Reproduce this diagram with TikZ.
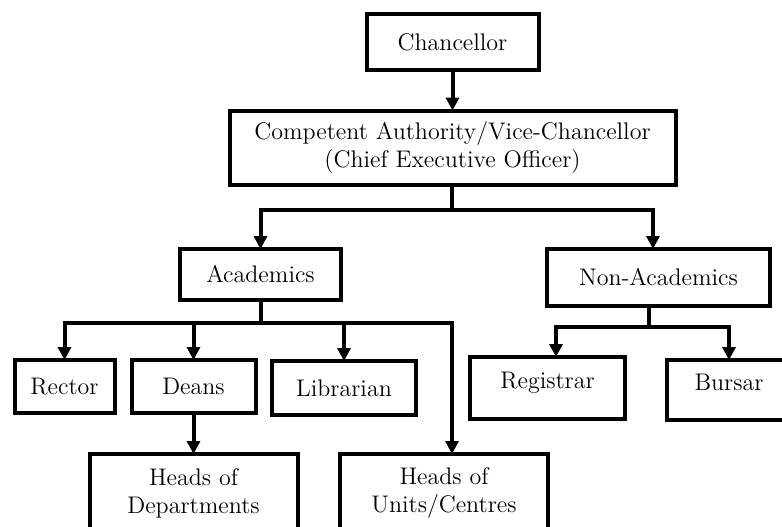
\documentclass[tikz,border=0pt]{standalone}
\usepackage{tikz,tkz-graph}
\usetikzlibrary{arrows.meta}
\tikzstyle{orgBox}=[shape = rectangle, draw, line width = 2pt, inner sep = 2pt, align = center, font = \fontsize{12}{14}\selectfont]
\tikzstyle{raisedText}=[text height = 9pt, text depth = 9pt]
\tikzstyle{orgLine}=[line width = 2pt]
\tikzstyle{orgArrow}=[line width = 2pt, -{Triangle[length = 6.5pt, width = 6.5pt]}]

\begin{document}
\begin{tikzpicture}[x = 0.5pt, y = -0.5pt]
\tikzstyle{VertexStyle} = []
\tikzstyle{EdgeStyle} = [orgArrow]
\path[use as bounding box, clip] (0,0) rectangle (782,526);
\Vertex[style = {orgBox, minimum width = 86pt, minimum height = 28pt}, x = 452.5, y = 42, L = {Chancellor}]{chan}
\Vertex[style = {orgBox, minimum width = 223pt, minimum height = 37pt}, x = 452.5, y = 147.5, L = {Competent Authority/Vice-Chancellor\\(Chief Executive Officer)}]{ca}
\Vertex[style = {orgBox, minimum width = 80.5pt, minimum height = 25.5pt}, x = 260.5, y = 274.5, L = {Academics}]{acad}
\Vertex[style = {orgBox, minimum width = 111.5pt, minimum height = 28.5pt}, x = 658.5, y = 277.5, L = {Non-Academics}]{nonacad}
\Vertex[style = {orgBox, minimum width = 50pt, minimum height = 26.5pt}, x = 64.5, y = 386.5, L = {Rector}]{rector}
\Vertex[style = {orgBox, minimum width = 62pt, minimum height = 26.5pt}, x = 193.5, y = 386.5, L = {Deans}]{deans}
\Vertex[style = {orgBox, minimum width = 72pt, minimum height = 27pt}, x = 344, y = 388, L = {Librarian}]{lib}
\Vertex[style = {orgBox, raisedText, minimum width = 77.5pt, minimum height = 31pt}, x = 547.5, y = 388, L = {Registrar}]{reg}
\Vertex[style = {orgBox, raisedText, minimum width = 62pt, minimum height = 30pt}, x = 729, y = 390, L = {Bursar}]{bursar}
\Vertex[style = {orgBox, minimum width = 104pt, minimum height = 39pt}, x = 193.5, y = 493, L = {Heads of\\Departments}]{hod}
\Vertex[style = {orgBox, minimum width = 104pt, minimum height = 39pt}, x = 444, y = 493, L = {Heads of\\Units/Centres}]{hou}
\coordinate (caFork) at (452,210);
\coordinate (caRight) at (653,210);
\coordinate (acFork) at (260.5,323);
\coordinate (acEnd) at (452,323);
\coordinate (naFork) at (649,327);
\coordinate (naLeft) at (556,327);
\Edge(chan)(ca)
\Edge(deans)(hod)
\draw[orgLine] (caFork |- ca.south) -- (caFork);
\draw[orgArrow] (caFork) -| (acad.north);
\draw[orgArrow] (caFork) -- (caRight) -- (caRight |- nonacad.north);
\draw[orgLine] (acad.south) -- (acFork);
\draw[orgArrow] (acFork) -| (rector.north);
\draw[orgArrow] (acFork) -| (deans.north);
\draw[orgArrow] (acFork) -| (lib.north);
\draw[orgArrow] (acFork) -- (acEnd) -- (acEnd |- hou.north);
\draw[orgLine] (naFork |- nonacad.south) -- (naFork);
\draw[orgArrow] (naFork) -- (naLeft) -- (naLeft |- reg.north);
\draw[orgArrow] (naFork) -| (bursar.north);
\end{tikzpicture}
\end{document}
